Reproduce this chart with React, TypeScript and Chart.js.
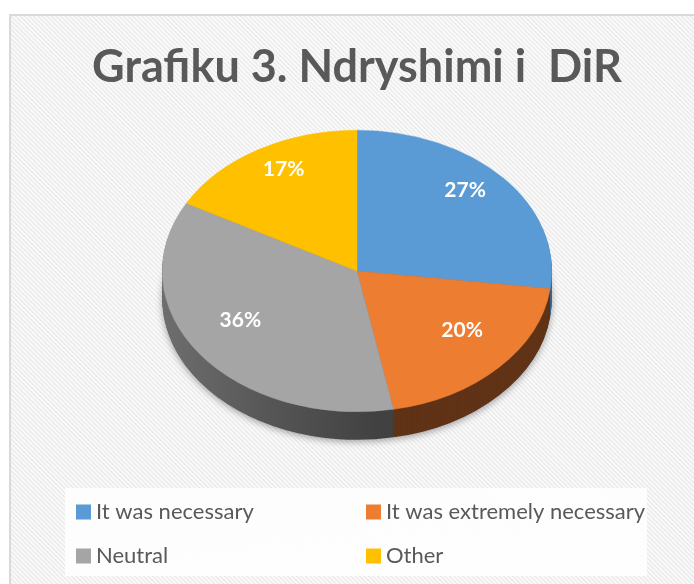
import { useEffect, useRef } from "react";
import { Chart, registerables } from "chart.js";

Chart.register(...registerables);

const title = "Grafiku 3. Ndryshimi i  DiR";
const categories = ["It was necessary", "It was extremely necessary", "Neutral", "Other"];
const values = [27, 20, 36, 17];
const colors = ["#5B9BD5", "#ED7D31", "#A5A5A5", "#FFC000"];
const sideColors = ["#3a6891", "#603317", "#474747", "#9c7600"];

const W = 694;
const H = 584;
const CX = 357;
const CY = 271;
const RX = 195;
const RY = 141;
const DEPTH = 28;
const K = RY / RX;
const TEXT = "#595959";

export default function App() {
  const ref = useRef<HTMLCanvasElement | null>(null);

  useEffect(() => {
    const canvas = ref.current!;
    const background = {
      id: "bg",
      beforeDraw(chart: any) {
        const ctx = chart.ctx;
        ctx.save();
        ctx.fillStyle = "#ffffff";
        ctx.fillRect(0, 0, W, H);
        ctx.beginPath();
        ctx.rect(10, 15, W, H);
        ctx.clip();
        ctx.fillStyle = "#fbfbfb";
        ctx.fillRect(10, 15, W, H);
        ctx.strokeStyle = "#ececec";
        ctx.lineWidth = 1.6;
        for (let s = -H; s < W + 20; s += 4.5) {
          ctx.beginPath();
          ctx.moveTo(s, 15);
          ctx.lineTo(s + H, 15 + H);
          ctx.stroke();
        }
        ctx.restore();
        ctx.save();
        ctx.fillStyle = "rgba(255,255,255,0.85)";
        ctx.fillRect(65, 488, 582, 88);
        ctx.strokeStyle = "#d9d9d9";
        ctx.lineWidth = 2;
        ctx.strokeRect(10, 15, W + 10, H + 10);
        ctx.restore();
      },
    };

    const pie3d = {
      id: "pie3d",
      beforeDatasetsDraw(chart: any) {
        const meta = chart.getDatasetMeta(0);
        const ctx = chart.ctx;
        const cx = meta.data[0].x;
        const cy = meta.data[0].y;
        ctx.save();
        ctx.translate(cx, cy);
        ctx.scale(1, K);
        ctx.translate(-cx, -cy);
        const grayGrad = ctx.createLinearGradient(cx - RX, 0, cx + RX, 0);
        grayGrad.addColorStop(0, "#6e6e6e");
        grayGrad.addColorStop(0.3, "#545454");
        grayGrad.addColorStop(0.55, "#414141");
        grayGrad.addColorStop(1, "#3e3e3e");
        for (let d = DEPTH; d >= 1; d -= 1) {
          ctx.save();
          ctx.translate(0, d / K);
          if (d === DEPTH) {
            ctx.shadowColor = "rgba(0,0,0,0.35)";
            ctx.shadowBlur = 7;
            ctx.shadowOffsetY = 2;
          }
          meta.data.forEach((el: any, i: number) => {
            const c = i === 2 ? grayGrad : sideColors[i];
            const fake = Object.create(el);
            fake.options = { ...el.options, backgroundColor: c, borderColor: c, borderWidth: 0 };
            fake.draw(ctx);
          });
          ctx.restore();
        }
      },
      afterDatasetsDraw(chart: any) {
        const ctx = chart.ctx;
        ctx.restore();
        const meta = chart.getDatasetMeta(0);
        ctx.save();
        ctx.fillStyle = "#ffffff";
        ctx.font = "bold 21px Lato";
        ctx.textAlign = "center";
        ctx.textBaseline = "middle";
        meta.data.forEach((el: any, i: number) => {
          const mid = (el.startAngle + el.endAngle) / 2;
          const r = el.outerRadius * 0.74;
          const x = el.x + Math.cos(mid) * r;
          const y = el.y + Math.sin(mid) * r * K - 12;
          ctx.fillText(values[i] + "%", x, y);
        });
        ctx.restore();
      },
      afterDraw(chart: any) {
        const ctx = chart.ctx;
        ctx.save();
        ctx.fillStyle = TEXT;
        ctx.font = "bold 45px Lato";
        ctx.textAlign = "center";
        ctx.textBaseline = "alphabetic";
        ctx.fillText(title, 357, 82);
        ctx.font = "22px Lato";
        ctx.textAlign = "left";
        ctx.textBaseline = "middle";
        const cols = [76, 366];
        const rows = [512, 556];
        categories.forEach((lab, i) => {
          const x = cols[i % 2];
          const y = rows[Math.floor(i / 2)];
          ctx.fillStyle = colors[i];
          ctx.fillRect(x, y - 7.5, 15, 15);
          ctx.fillStyle = TEXT;
          ctx.fillText(lab, x + 20, y);
        });
        ctx.restore();
      },
    };

    const chart = new Chart(canvas, {
      type: "pie",
      data: {
        labels: categories,
        datasets: [
          {
            data: values,
            backgroundColor: colors,
            borderColor: colors,
            borderWidth: 0.5,
          },
        ],
      },
      options: {
        responsive: false,
        animation: false,
        layout: {
          padding: { left: CX - RX, right: W - (CX + RX), top: CY - RX, bottom: H - (CY + RX) },
        },
        plugins: {
          legend: { display: false },
          title: { display: false },
          tooltip: { enabled: false },
        },
      },
      plugins: [background, pie3d],
    });
    return () => chart.destroy();
  }, []);

  return (
    <div style={{ position: "fixed", left: 0, top: 0, width: W, height: H }}>
      <canvas ref={ref} width={W} height={H} />
    </div>
  );
}
